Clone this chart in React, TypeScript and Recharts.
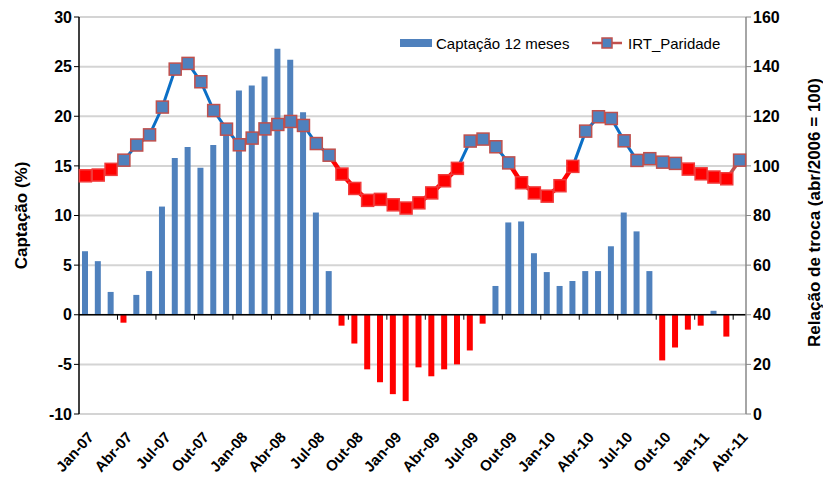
import React from 'react';
import {
  ComposedChart, Bar, Line, XAxis, YAxis, CartesianGrid, ReferenceLine, Cell, Legend
} from 'recharts';

const months = [
  'Jan-07', 'Fev-07', 'Mar-07', 'Abr-07', 'Mai-07', 'Jun-07', 'Jul-07', 'Ago-07', 'Set-07', 'Out-07', 'Nov-07', 'Dez-07',
  'Jan-08', 'Fev-08', 'Mar-08', 'Abr-08', 'Mai-08', 'Jun-08', 'Jul-08', 'Ago-08', 'Set-08', 'Out-08', 'Nov-08', 'Dez-08',
  'Jan-09', 'Fev-09', 'Mar-09', 'Abr-09', 'Mai-09', 'Jun-09', 'Jul-09', 'Ago-09', 'Set-09', 'Out-09', 'Nov-09', 'Dez-09',
  'Jan-10', 'Fev-10', 'Mar-10', 'Abr-10', 'Mai-10', 'Jun-10', 'Jul-10', 'Ago-10', 'Set-10', 'Out-10', 'Nov-10', 'Dez-10',
  'Jan-11', 'Fev-11', 'Mar-11', 'Abr-11',
];

// Captação 12 meses (%)
const captacao = [
  6.4, 5.4, 2.3, -0.8, 2.0, 4.4, 10.9, 15.8, 16.9, 14.8, 17.1, 18.5,
  22.6, 23.1, 24.0, 26.8, 25.7, 20.4, 10.3, 4.4, -1.1, -2.9, -5.5, -6.8,
  -8.0, -8.7, -5.3, -6.2, -5.5, -5.0, -3.6, -0.9, 2.9, 9.3, 9.4, 6.2,
  4.3, 2.9, 3.4, 4.4, 4.4, 6.9, 10.3, 8.4, 4.4, -4.6, -3.3, -1.5,
  -1.1, 0.4, -2.2, null,
];

// IRT_Paridade (abr/2006 = 100)
const irt = [
  96.0, 96.3, 98.6, 102.3, 108.4, 112.5, 123.7, 139.0, 141.3, 133.9, 122.3, 114.8,
  108.5, 111.2, 114.9, 116.7, 117.9, 116.3, 109.0, 104.3, 96.7, 90.9, 86.1, 86.5,
  84.3, 83.0, 85.1, 89.1, 94.0, 99.0, 110.0, 110.8, 107.7, 101.2, 93.2, 89.1,
  87.8, 92.0, 99.8, 114.0, 119.8, 119.1, 110.1, 102.2, 102.9, 101.5, 101.0, 98.7,
  96.8, 95.5, 94.8, 102.3,
];

const leftTicks = [-10, -5, 0, 5, 10, 15, 20, 25, 30];
const rightTicks = [0, 20, 40, 60, 80, 100, 120, 140, 160];

const FONT = '"Liberation Sans", Arial, sans-serif';
const BLUE = '#4F81BD';
const RED = '#FF0000';
const LINE_BLUE = '#0B6FC6';
const BORDER = '#C0504D';

const isUp = (i: number) => irt[i] > 100;
const last = irt.length - 1;

// a segment takes the colour of the point it ends on
const redSeg = irt.map((v, i) => (!isUp(i) || (i < last && !isUp(i + 1)) ? v : null));
const blueSeg = irt.map((v, i) =>
  i < last - 1 && (isUp(i) || (i < last && isUp(i + 1))) ? v : (i === last - 1 && isUp(i) ? v : null)
);
const tailSeg = irt.map((v, i) => (i >= last - 1 ? v : null));

const data = months.map((m, i) => ({
  month: m,
  captacao: captacao[i],
  irt: irt[i],
  red: redSeg[i],
  blue: blueSeg[i],
  tail: tailSeg[i],
}));

const boundaryTicks = months.filter((_, i) => i > 0 && i % 3 === 0);

const Marker = (props: any) => {
  const { cx, cy, index } = props;
  if (cx == null || cy == null) return <g key={`m-${index}`} />;
  const up = isUp(index);
  const s = 12;
  return (
    <rect
      key={`m-${index}`}
      x={cx - s / 2}
      y={cy - s / 2}
      width={s}
      height={s}
      fill={up ? BLUE : RED}
      stroke={up ? BORDER : '#F23A3A'}
      strokeWidth={1.5}
    />
  );
};

const MonthTick = (props: any) => {
  const { x, y, payload } = props;
  const ax = x + 5;
  const ay = y + 12;
  return (
    <text
      x={ax}
      y={ay}
      transform={`rotate(-48, ${ax}, ${ay})`}
      textAnchor="end"
      dominantBaseline="central"
      fontFamily={FONT}
      fontWeight="bold"
      fontSize={15}
      fill="#000"
    >
      {payload.value}
    </text>
  );
};

const LeftTitle = (props: any) => {
  const vb = props.viewBox;
  const x = 21;
  const y = vb.y + vb.height / 2;
  return (
    <text x={x} y={y} transform={`rotate(-90, ${x}, ${y})`} textAnchor="middle" dominantBaseline="central"
      fontFamily={FONT} fontWeight="bold" fontSize={17} fill="#000">
      Captação (%)
    </text>
  );
};

const RightTitle = (props: any) => {
  const vb = props.viewBox;
  const x = vb.x + 68;
  const y = vb.y + vb.height / 2 - 3;
  return (
    <text x={x} y={y} transform={`rotate(-90, ${x}, ${y})`} textAnchor="middle" dominantBaseline="central"
      fontFamily={FONT} fontWeight="bold" fontSize={17} fill="#000">
      Relação de troca (abr/2006 = 100)
    </text>
  );
};

const LegendBox = () => (
  <svg width={340} height={20} style={{ overflow: 'visible', display: 'block' }}>
    <rect x={0} y={6} width={32} height={8} fill={BLUE} />
    <text x={36} y={10} dominantBaseline="central" fontFamily={FONT} fontSize={15} fill="#000">
      Captação 12 meses
    </text>
    <line x1={192} y1={10} x2={222} y2={10} stroke={BORDER} strokeWidth={2.5} />
    <rect x={202} y={5} width={10} height={10} fill={BLUE} stroke={BORDER} strokeWidth={1.5} />
    <text x={228} y={10} dominantBaseline="central" fontFamily={FONT} fontSize={15} fill="#000">
      IRT_Paridade
    </text>
  </svg>
);

export default function App() {
  return (
    <div style={{ position: 'absolute', left: 0, top: 0, width: 823, height: 479, background: '#fff' }}>
      <ComposedChart
        width={823}
        height={479}
        data={data}
        margin={{ top: 17, right: 0, bottom: 0, left: 0 }}
      >
        <CartesianGrid yAxisId="left" vertical={false} stroke="#D4D4D4" strokeWidth={2} />
        <XAxis
          dataKey="month"
          interval={2}
          axisLine={false}
          tickLine={false}
          height={65}
          tick={<MonthTick />}
        />
        <YAxis
          yAxisId="left"
          domain={[-10, 30]}
          ticks={leftTicks}
          width={79}
          axisLine={{ stroke: '#000', strokeWidth: 1.5 }}
          tickLine={{ stroke: '#000' }}
          tickSize={5}
          tick={{ fontFamily: FONT, fontWeight: 'bold', fontSize: 16, fill: '#000' }}
          label={{ content: LeftTitle }}
        />
        <YAxis
          yAxisId="right"
          orientation="right"
          domain={[0, 160]}
          ticks={rightTicks}
          width={77}
          axisLine={{ stroke: '#888', strokeWidth: 1.5 }}
          tickLine={{ stroke: '#888' }}
          tickSize={5}
          tick={{ fontFamily: FONT, fontWeight: 'bold', fontSize: 16, fill: '#000' }}
          label={{ content: RightTitle }}
        />
        <Legend
          layout="horizontal"
          verticalAlign="middle"
          align="center"
          wrapperStyle={{ position: 'absolute', left: 400, top: 33, width: 340, height: 20 }}
          content={<LegendBox />}
        />
        <Bar yAxisId="left" dataKey="captacao" barSize={6} isAnimationActive={false} legendType="none">
          {captacao.map((v, i) => (
            <Cell key={`c-${i}`} fill={v != null && v < 0 ? RED : BLUE} />
          ))}
        </Bar>
        <ReferenceLine yAxisId="left" y={0} stroke="#000" strokeWidth={1.5} />
        {boundaryTicks.map((m) => (
          <ReferenceLine
            key={`t-${m}`}
            yAxisId="left"
            position="start"
            segment={[{ x: m, y: 0 }, { x: m, y: -0.5 }]}
            stroke="#000"
            strokeWidth={1}
          />
        ))}
        <Line yAxisId="right" dataKey="blue" stroke={LINE_BLUE} strokeWidth={3} dot={false} activeDot={false}
          connectNulls={false} isAnimationActive={false} legendType="none" />
        <Line yAxisId="right" dataKey="tail" stroke={BORDER} strokeWidth={3.5} dot={false} activeDot={false}
          connectNulls={false} isAnimationActive={false} legendType="none" />
        <Line yAxisId="right" dataKey="red" stroke={RED} strokeWidth={4.5} dot={false} activeDot={false}
          connectNulls={false} isAnimationActive={false} legendType="none" />
        <Line yAxisId="right" dataKey="irt" stroke="none" dot={Marker} activeDot={false}
          isAnimationActive={false} legendType="none" />
      </ComposedChart>
    </div>
  );
}
